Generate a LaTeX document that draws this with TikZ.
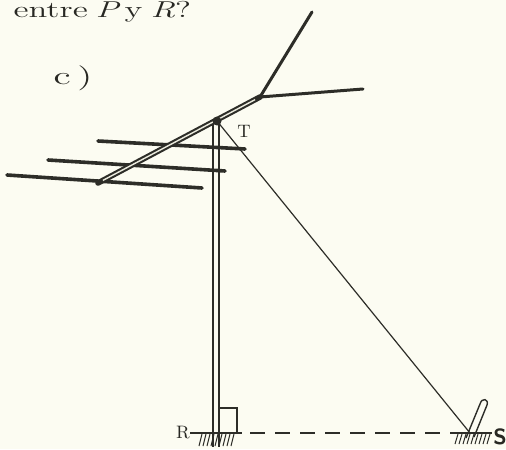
\documentclass[tikz,border=0pt]{standalone}
\usetikzlibrary{calc}
\definecolor{paper}{RGB}{252,252,242}
\definecolor{inkc}{RGB}{45,45,40}
\definecolor{textc}{RGB}{40,40,35}
\definecolor{tubefill}{RGB}{235,235,222}
\begin{document}
\begin{tikzpicture}[x=0.5pt,y=-0.5pt,
  ink/.style={draw=inkc},
  rod/.style={ink,line width=1.8pt,line cap=round},
  tube/.style={ink,line width=2.8pt,line cap=round},
  tubeinner/.style={draw=tubefill,line width=0.7pt},
  mastline/.style={ink,line width=0.85pt},
  wire/.style={ink,line width=0.6pt},
  hatch/.style={ink,line width=0.5pt},
  lbl/.style={inner sep=0pt,text=textc},
  head/.style={lbl,anchor=base west,font=\fontsize{11.5}{14}\selectfont,xscale=1.5,transform shape}]
\fill[paper] (0,0) rectangle (506,449);
\useasboundingbox (0,0) rectangle (506,449);

% heading text
\node[head] (w1) at (13,18) {entre};
\node[head] (w2) at (95,18) {\textit{P}};
\node[head] (w3) at (124,18) {y};
\node[head] (w4) at (150,18) {\textit{R}?};
\node[head,font=\fontsize{12.5}{15}\selectfont,xscale=1.05] (c) at (53,84) {c\,)};

% key points
\coordinate (top) at (217,121);
\coordinate (base) at (216,433);
\coordinate (fork) at (260,97);
\coordinate (boomend) at (98,183);
\coordinate (tipA) at (312,12);
\coordinate (tipB) at (363,89);
\coordinate (stake) at (470,433);

% mast (hollow pole)
\draw[mastline] (213,120) -- (213,447);
\draw[mastline] (219,120) -- (219,447);

% cross elements
\draw[rod] (98,141) -- (245,149);
\draw[rod] (48,160) -- (225,171);
\draw[rod] (7,175) -- (202,188);

% boom (tube) and forked tips
\draw[tube] (boomend) -- (fork);
\draw[tubeinner] ($(boomend)!0.03!(fork)$) -- ($(boomend)!0.97!(fork)$);
\draw[rod,line width=1.5pt] (fork) -- (tipA);
\draw[rod,line width=1.5pt] (fork) -- (tipB);
\fill[inkc] (top) circle (4.5);

% guy wire
\draw[wire] (top) -- (stake);

% ground line
\draw[ink,line width=0.8pt] (190,433) -- (242,433);
\draw[ink,line width=0.8pt,dash pattern=on 7.5pt off 5pt] (250,433) -- (452,433);
\draw[ink,line width=0.8pt] (452,433) -- (492,433);

% right angle mark
\draw[ink,line width=0.6pt] (219,408) -- (237,408) -- (237,433);

% ground hatching
\foreach \hx in {202,206,...,234} \draw[hatch] (\hx,434) -- (\hx-3,446);
\foreach \hx in {458,462,...,490} \draw[hatch] (\hx,434) -- (\hx-3,444);

% anchor stake
\draw[ink,line width=0.7pt] (466,438) -- (480,404) .. controls (482,397) and (489,399) .. (487,405) -- (474,437);

% labels
\node[lbl] (T) at (244,131) {\fontsize{9}{11}\selectfont T};
\node[lbl] (R) at (183,433) {\fontsize{9}{11}\selectfont R};
\node[lbl] (S) at (500,437) {\fontsize{11}{13}\selectfont\bfseries\sffamily S};
\end{tikzpicture}
\end{document}
